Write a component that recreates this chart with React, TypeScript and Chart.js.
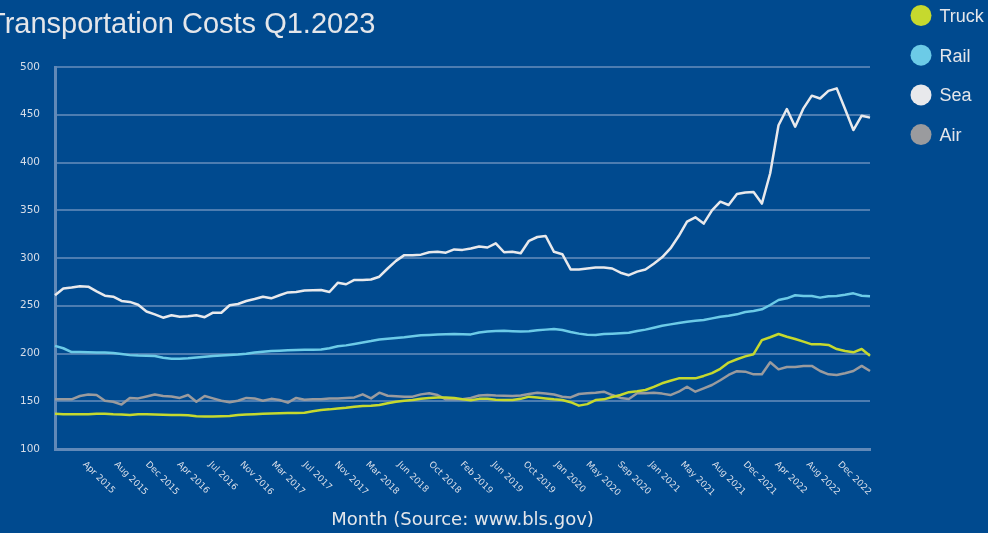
import React, { useEffect, useRef } from 'react';
import { Chart, registerables } from 'chart.js';

Chart.register(...registerables);

const MONTH_NAMES = ['Jan', 'Feb', 'Mar', 'Apr', 'May', 'Jun', 'Jul', 'Aug', 'Sep', 'Oct', 'Nov', 'Dec'];
const months: string[] = [];
for (let y = 2015; y <= 2023; y++) {
  for (let m = 0; m < 12; m++) {
    if (y === 2023 && m > 2) break;
    months.push(`${MONTH_NAMES[m]} ${y}`);
  }
}

const tickLabels = ['Apr 2015', 'Aug 2015', 'Dec 2015', 'Apr 2016', 'Jul 2016', 'Nov 2016', 'Mar 2017', 'Jul 2017',
  'Nov 2017', 'Mar 2018', 'Jun 2018', 'Oct 2018', 'Feb 2019', 'Jun 2019', 'Oct 2019', 'Jan 2020', 'May 2020',
  'Sep 2020', 'Jan 2021', 'May 2021', 'Aug 2021', 'Dec 2021', 'Apr 2022', 'Aug 2022', 'Dec 2022'];

const truck = [137, 136.5, 136.5, 136.3, 136.5, 137, 136.8, 136.3, 136, 135.5,
  136.5, 136.3, 136, 135.8, 135.6, 135.5, 135.3, 134.3, 134, 134,
  134.3, 134.5, 135.5, 136, 136.5, 137, 137.2, 137.5, 137.7, 137.8,
  138, 139.5, 140.8, 141.5, 142.5, 143.3, 144.3, 145, 145.3, 146,
  148, 149.5, 150.5, 151.3, 152.5, 153.5, 154, 154, 153.5, 152,
  151, 152.5, 152.5, 151.5, 151.3, 151.3, 152.5, 154.8, 154, 153,
  152, 151.3, 149, 145.4, 147, 151.3, 152, 154.5, 156.5, 159.5,
  160.5, 161.8, 165, 168.8, 171.5, 174, 174, 174, 176.5, 179.5,
  184, 190.5, 194, 197, 199.3, 214, 217, 220.4, 217.6, 215.2,
  212.4, 209.6, 209.6, 209, 204.7, 202.6, 201.2, 204.7, 197.7];

const rail = [208, 205.5, 201.5, 201.5, 201.2, 201, 201, 200.5, 199.5, 198.3,
  197.8, 197.7, 197.3, 195.5, 194.6, 194.5, 195, 195.8, 196.5, 197.3,
  198, 198.5, 199, 199.8, 201, 201.8, 202.5, 203, 203.5, 203.7,
  203.8, 204, 204.2, 205.5, 207.5, 208.5, 210, 211.5, 213, 214.7,
  215.5, 216.3, 217, 218, 219, 219.5, 220, 220.2, 220.4, 220.2,
  220, 222, 223, 223.5, 223.7, 223.3, 223, 223.3, 224.3, 225,
  225.6, 224.6, 222.5, 220.8, 219.6, 219.4, 220.4, 220.8, 221.3, 221.8,
  223.5, 225, 227, 229, 230.5, 232, 233.3, 234.2, 235, 236.8,
  238.5, 239.5, 241, 243.5, 244.5, 246.3, 250.8, 256, 257.8, 261,
  260.2, 260.2, 258.5, 260, 260.2, 261.5, 263, 260.5, 260];

const sea = [261, 268, 269, 270.5, 270, 265, 260.5, 259.5, 255, 254,
  251, 244, 241, 237.5, 240, 238.5, 239, 240, 238, 242.7,
  242.7, 250.5, 251.8, 255, 257, 259.5, 257.8, 261, 264, 264.4,
  266, 266.3, 266.5, 264.4, 274, 272.5, 277, 277, 277.5, 280.4,
  289, 297, 303, 303, 303.5, 306, 306.6, 305.6, 309, 308.5,
  310, 312, 311, 315.4, 306, 306.5, 305, 318, 322, 323,
  306.5, 304, 288, 288, 289, 290, 290, 289, 284.6, 282,
  285.7, 288, 294, 300.7, 310, 323, 338, 342.6, 336, 349.8,
  359, 355.5, 367, 368.5, 369, 357, 388.7, 439, 456, 437.5,
  456.7, 470, 467, 475, 477.6, 456, 434, 449, 447];

const air = [152, 152, 152, 155.5, 157, 156.5, 150.5, 149.5, 146.5, 153.5,
  153, 155, 157, 155.5, 155, 153.5, 156.5, 149.5, 155.5, 153,
  150.5, 149, 150.5, 153.5, 153, 150.5, 152.5, 151.3, 148.5, 153.5,
  151.5, 152, 152, 153, 153, 153.5, 154, 157.2, 153, 159,
  155.8, 155.3, 154.8, 154.8, 157.2, 158.3, 156.5, 152, 152, 152,
  153.5, 156, 156.5, 156, 155.8, 155.5, 156, 157.6, 159, 158,
  157, 154.8, 154, 157.6, 158.3, 159, 160, 156.5, 153.5, 152.4,
  158.3, 158.5, 159, 158, 156.5, 160, 165.2, 160, 163.5, 167,
  172, 177.5, 181.5, 181, 178.2, 178.2, 190.8, 183.4, 185.9, 185.9,
  187, 187, 181.7, 178.2, 177.5, 179.3, 181.7, 187, 181.7];

const TITLE = 'Transportation Costs Q1.2023';
const X_TITLE = 'Month (Source: www.bls.gov)';
const BG = '#004a8f';
const GRID = '#4d7db1';
const AXIS = '#6189b8';
const TEXT = '#d6dde8';
const LIGHT = '#e4e6ea';

const series = [
  { label: 'Truck', data: truck, color: '#c6d92e' },
  { label: 'Rail', data: rail, color: '#6ccbe7' },
  { label: 'Sea', data: sea, color: '#e8e9ec' },
  { label: 'Air', data: air, color: '#9a9b9e' },
];

// evenly spaced tick-label positions along the category axis (in month-index units)
const TICK_START = 3.5;
const TICK_STEP = 3.783;

const decorPlugin = {
  id: 'decor',
  beforeDraw(chart: any) {
    const { ctx, width, height } = chart;
    ctx.save();
    ctx.fillStyle = BG;
    ctx.fillRect(0, 0, width, height);
    ctx.restore();
  },
  afterDraw(chart: any) {
    const ctx = chart.ctx as CanvasRenderingContext2D;
    const xs = chart.scales.x;
    const bottom = chart.chartArea.bottom;
    ctx.save();
    ctx.font = '9px "DejaVu Sans"';
    ctx.fillStyle = TEXT;
    ctx.textAlign = 'left';
    ctx.textBaseline = 'middle';
    tickLabels.forEach((t, k) => {
      const px = xs.getPixelForValue(TICK_START + k * TICK_STEP);
      ctx.save();
      ctx.translate(px, bottom + 14);
      ctx.rotate(Math.PI / 4);
      ctx.fillText(t, 0, 0);
      ctx.restore();
    });

    ctx.font = '29px "Liberation Sans"';
    ctx.fillStyle = LIGHT;
    ctx.textBaseline = 'alphabetic';
    ctx.fillText(TITLE, -12, 33);

    ctx.font = '18px "Liberation Sans"';
    series.forEach((s, i) => {
      const cy = 15.5 + i * 39.7;
      ctx.beginPath();
      ctx.arc(921, cy, 10.5, 0, Math.PI * 2);
      ctx.fillStyle = s.color;
      ctx.fill();
      ctx.fillStyle = LIGHT;
      ctx.fillText(s.label, 939.5, cy + 6.4);
    });
    ctx.restore();
  },
};

export default function App() {
  const ref = useRef<HTMLCanvasElement>(null);
  useEffect(() => {
    document.body.style.margin = '0';
    document.body.style.background = BG;
    const chart = new Chart(ref.current as HTMLCanvasElement, {
      type: 'line',
      data: {
        labels: months,
        datasets: series.map((s) => ({
          label: s.label,
          data: s.data,
          borderColor: s.color,
          backgroundColor: s.color,
          borderWidth: 2.5,
          pointRadius: 0,
          borderJoinStyle: 'round' as const,
          tension: 0,
          fill: false,
        })),
      },
      options: {
        responsive: false,
        animation: false,
        devicePixelRatio: 1,
        layout: { padding: { top: 67, right: 118, bottom: 0, left: 0 } },
        plugins: {
          legend: { display: false },
          title: { display: false },
          tooltip: { enabled: false },
        },
        scales: {
          x: {
            type: 'category',
            offset: false,
            grid: { display: false },
            border: { display: true, color: AXIS, width: 3 },
            ticks: { display: false },
            title: {
              display: true,
              text: X_TITLE,
              color: LIGHT,
              font: { family: 'DejaVu Sans', size: 18 },
              padding: { top: 0, bottom: 2 },
            },
            afterFit: (s: any) => { s.height = 84; },
          },
          y: {
            min: 100,
            max: 500,
            ticks: {
              stepSize: 50,
              color: TEXT,
              font: { family: 'DejaVu Sans', size: 10.5 },
              padding: 15,
            },
            grid: { color: GRID, lineWidth: 2, drawTicks: false },
            border: { display: true, color: AXIS, width: 3 },
            afterFit: (s: any) => { s.width = 55; },
          },
        },
      },
      plugins: [decorPlugin],
    });
    return () => chart.destroy();
  }, []);
  return (
    <div style={{ width: 988, height: 533 }}>
      <canvas ref={ref} width={988} height={533} style={{ display: 'block' }} />
    </div>
  );
}
